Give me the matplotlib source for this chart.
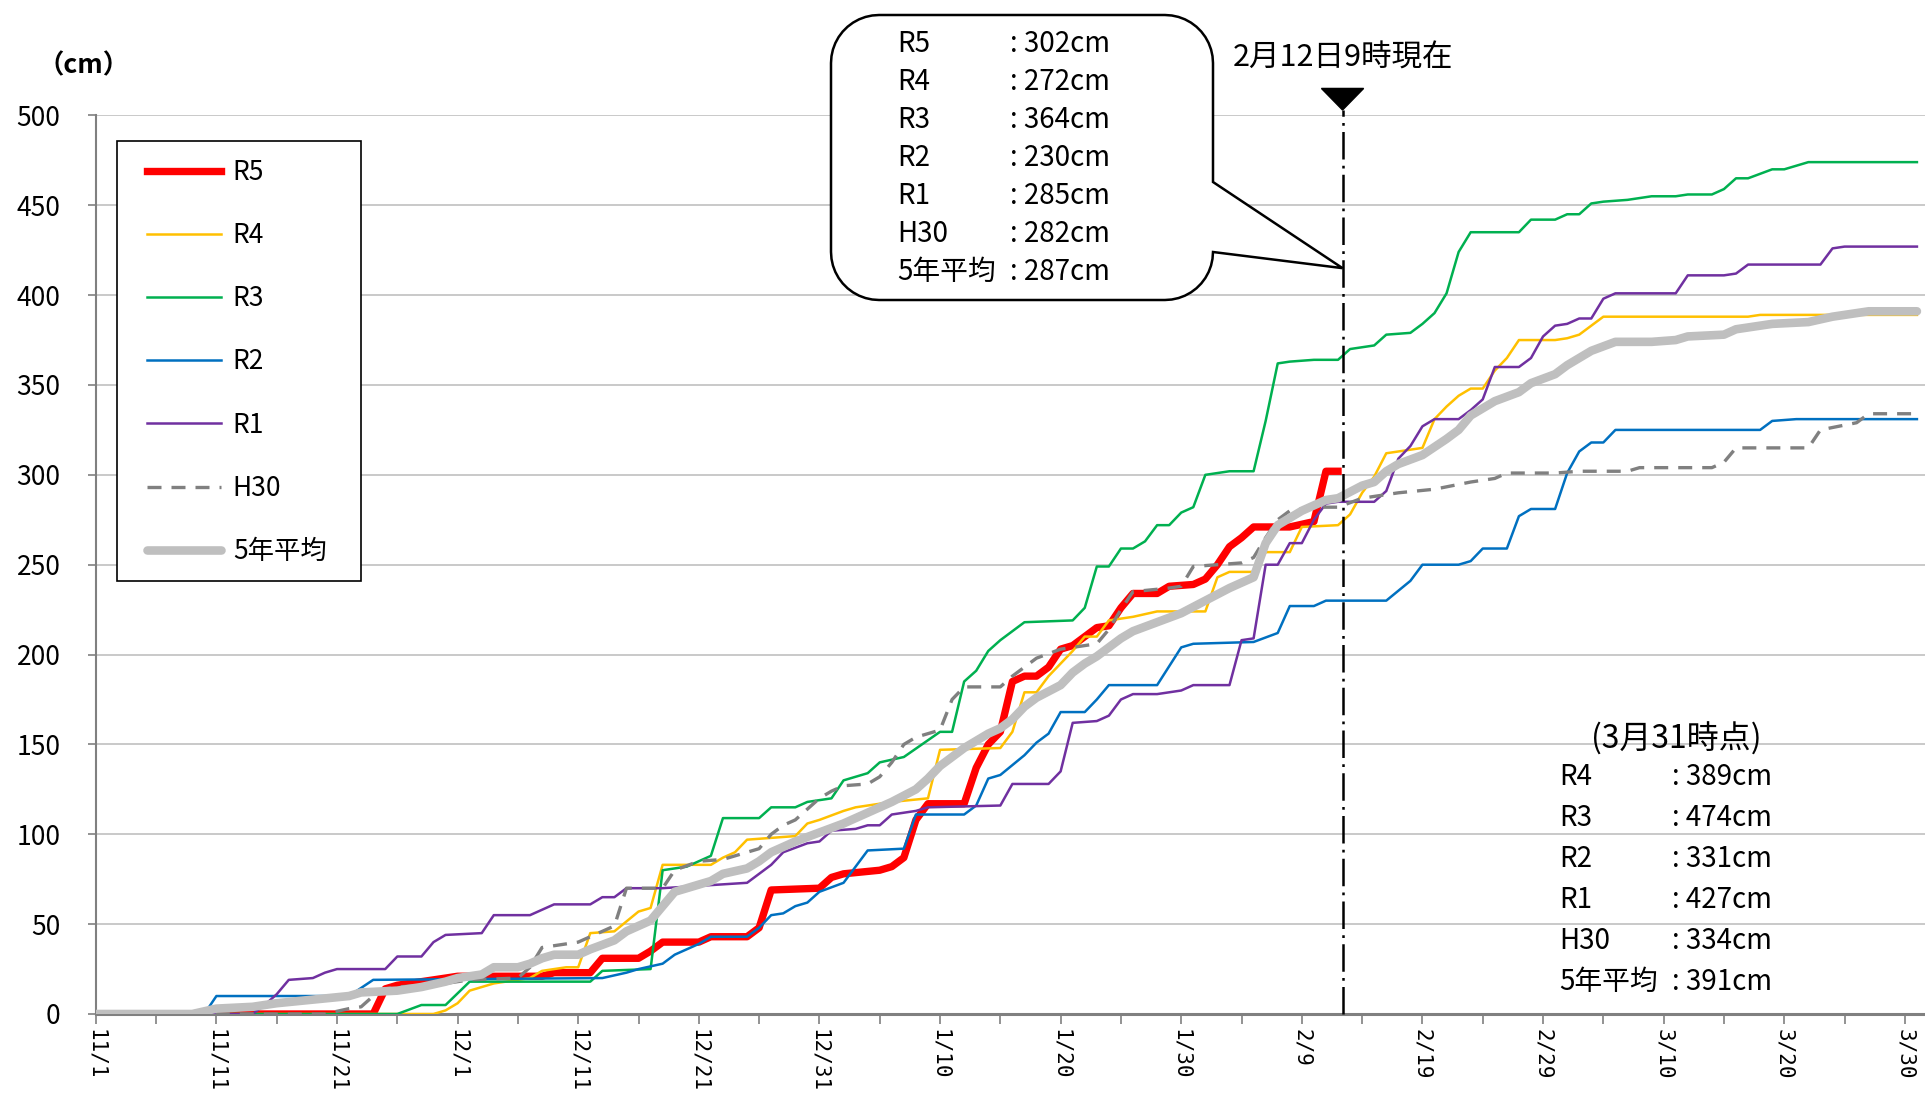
import numpy as np
import matplotlib
matplotlib.use('Agg')
import matplotlib.pyplot as plt
from matplotlib.patches import Polygon, Rectangle

plt.rcParams['font.family'] = ['Noto Sans CJK JP', 'DejaVu Sans']

# day index: 11/1 = 0 ... 3/31 = 151 (leap year)
tick_labels = ['11/1', '11/11', '11/21', '12/1', '12/11', '12/21', '12/31', '1/10',
               '1/20', '1/30', '2/9', '2/19', '2/29', '3/10', '3/20', '3/30']
tick_days = list(range(0, 151, 10))

# cumulative snowfall (cm), (day, cm) break points
r5 = [(0, 0), (23, 0), (24, 14), (25, 16), (27, 18), (29, 20), (30, 21), (37, 21), (38, 23),
      (41, 23), (42, 31), (45, 31), (46, 35), (47, 40), (50, 40), (51, 43), (54, 43), (55, 48),
      (56, 69), (60, 70), (61, 76), (62, 78), (65, 80), (66, 82), (67, 87), (68, 108), (69, 117),
      (72, 117), (73, 137), (74, 150), (75, 157), (76, 185), (77, 188), (78, 188), (79, 193),
      (80, 203), (81, 205), (82, 210), (83, 215), (84, 216), (85, 226), (86, 234), (88, 234),
      (89, 238), (91, 239), (92, 242), (93, 250), (94, 260), (95, 265), (96, 271), (99, 271),
      (101, 274), (102, 302), (103, 302)]
r4 = [(0, 0), (28, 0), (29, 2), (30, 6), (31, 13), (32, 15), (33, 17), (35, 19), (36, 20),
      (37, 24), (39, 26), (40, 26), (41, 45), (43, 46), (45, 57), (46, 59), (47, 83), (51, 83),
      (52, 87), (53, 90), (54, 97), (58, 99), (59, 106), (60, 108), (62, 113), (63, 115),
      (66, 118), (69, 120), (70, 147), (75, 148), (76, 157), (77, 179), (78, 179), (79, 188),
      (80, 195), (81, 202), (82, 210), (83, 210), (84, 219), (86, 221), (88, 224), (92, 224),
      (93, 243), (94, 246), (96, 246), (97, 257), (99, 257), (100, 271), (103, 272), (104, 278),
      (105, 290), (106, 299), (107, 312), (110, 315), (111, 331), (112, 338), (113, 344),
      (114, 348), (115, 348), (116, 358), (117, 365), (118, 375), (121, 375), (122, 376),
      (123, 378), (124, 383), (125, 388), (137, 388), (138, 389), (151, 389)]
r3 = [(0, 0), (25, 0), (27, 5), (29, 5), (31, 18), (41, 18), (42, 24), (46, 25), (47, 80),
      (49, 82), (50, 85), (51, 88), (52, 109), (55, 109), (56, 115), (58, 115), (59, 118),
      (61, 120), (62, 130), (64, 134), (65, 140), (67, 143), (70, 157), (71, 157), (72, 185),
      (73, 191), (74, 202), (75, 208), (77, 218), (81, 219), (82, 226), (83, 249), (84, 249),
      (85, 259), (86, 259), (87, 263), (88, 272), (89, 272), (90, 279), (91, 282), (92, 300),
      (94, 302), (96, 302), (97, 330), (98, 362), (99, 363), (101, 364), (103, 364), (104, 370),
      (106, 372), (107, 378), (109, 379), (110, 384), (111, 390), (112, 401), (113, 424),
      (114, 435), (118, 435), (119, 442), (121, 442), (122, 445), (123, 445), (124, 451),
      (125, 452), (127, 453), (129, 455), (131, 455), (132, 456), (134, 456), (135, 459),
      (136, 465), (137, 465), (139, 470), (140, 470), (142, 474), (151, 474)]
r2 = [(0, 0), (9, 0), (10, 10), (21, 10), (23, 19), (42, 20), (44, 23), (45, 25), (47, 28),
      (48, 33), (50, 39), (51, 43), (54, 43), (55, 48), (56, 55), (57, 56), (58, 60), (59, 62),
      (60, 68), (62, 73), (64, 91), (67, 92), (68, 111), (72, 111), (73, 116), (74, 131),
      (75, 133), (77, 144), (78, 151), (79, 156), (80, 168), (82, 168), (83, 175), (84, 183),
      (88, 183), (90, 204), (91, 206), (96, 207), (98, 212), (99, 227), (101, 227), (102, 230),
      (107, 230), (109, 241), (110, 250), (113, 250), (114, 252), (115, 259), (117, 259),
      (118, 277), (119, 281), (121, 281), (122, 301), (123, 313), (124, 318), (125, 318),
      (126, 325), (138, 325), (139, 330), (141, 331), (151, 331)]
r1 = [(0, 0), (13, 0), (14, 5), (15, 11), (16, 19), (18, 20), (19, 23), (20, 25), (24, 25),
      (25, 32), (27, 32), (28, 40), (29, 44), (32, 45), (33, 55), (36, 55), (37, 58), (38, 61),
      (41, 61), (42, 65), (43, 65), (44, 70), (47, 70), (54, 73), (55, 78), (56, 83), (57, 90),
      (59, 95), (60, 96), (61, 102), (63, 103), (64, 105), (65, 105), (66, 111), (68, 113),
      (69, 115), (75, 116), (76, 128), (79, 128), (80, 135), (81, 162), (83, 163), (84, 166),
      (85, 175), (86, 178), (88, 178), (90, 180), (91, 183), (94, 183), (95, 208), (96, 209),
      (97, 250), (98, 250), (99, 262), (100, 262), (101, 275), (102, 284), (103, 285), (106, 285),
      (107, 291), (108, 309), (109, 316), (110, 327), (111, 331), (113, 331), (114, 336),
      (115, 342), (116, 360), (118, 360), (119, 365), (120, 377), (121, 383), (122, 384),
      (123, 387), (124, 387), (125, 398), (126, 401), (131, 401), (132, 411), (135, 411),
      (136, 412), (137, 417), (143, 417), (144, 426), (145, 427), (151, 427)]
h30 = [(0, 0), (19, 0), (21, 3), (22, 4), (23, 10), (24, 14), (25, 15), (29, 17), (31, 19),
       (35, 20), (36, 26), (37, 37), (39, 39), (40, 40), (41, 43), (43, 49), (44, 70), (47, 70),
       (48, 80), (50, 85), (52, 86), (54, 90), (55, 92), (56, 100), (57, 105), (58, 108),
       (59, 114), (60, 120), (61, 124), (62, 127), (64, 128), (65, 132), (66, 140), (67, 150),
       (68, 154), (70, 158), (71, 175), (72, 182), (75, 182), (76, 188), (78, 198), (80, 203),
       (83, 206), (84, 214), (85, 225), (86, 235), (89, 237), (90, 238), (91, 249), (93, 250),
       (95, 251), (96, 254), (97, 265), (98, 275), (99, 280), (101, 282), (103, 282), (105, 287),
       (108, 290), (111, 292), (114, 296), (116, 298), (117, 301), (121, 301), (123, 302),
       (127, 302), (128, 304), (134, 304), (135, 307), (136, 315), (142, 315), (143, 325),
       (146, 329), (147, 334), (151, 334)]
avg5 = [(0, 0), (8, 0), (10, 3), (13, 4), (15, 6), (18, 8), (21, 10), (22, 12), (25, 13),
        (27, 15), (29, 18), (30, 20), (32, 22), (33, 26), (35, 26), (36, 28), (37, 31), (38, 33),
        (40, 33), (41, 36), (43, 41), (44, 46), (46, 52), (47, 60), (48, 68), (49, 70), (51, 74),
        (52, 78), (54, 81), (55, 85), (56, 90), (58, 96), (60, 101), (62, 106), (64, 112),
        (66, 118), (68, 125), (69, 131), (70, 138), (71, 143), (72, 148), (74, 156), (75, 159),
        (76, 164), (77, 171), (78, 176), (80, 183), (81, 190), (82, 195), (83, 199), (84, 204),
        (85, 209), (86, 213), (88, 218), (90, 223), (92, 230), (94, 237), (96, 243), (97, 262),
        (98, 272), (100, 280), (102, 286), (103, 287), (105, 294), (106, 296), (107, 302),
        (108, 306), (110, 311), (112, 320), (113, 325), (114, 333), (116, 341), (118, 346),
        (119, 351), (121, 356), (122, 361), (123, 365), (124, 369), (126, 374), (129, 374),
        (131, 375), (132, 377), (135, 378), (136, 381), (139, 384), (142, 385), (144, 388),
        (146, 390), (147, 391), (151, 391)]

# 2/12 9:00 marker
now_day = 103.375
now_title = '2月12日9時現在'
now_names = ['R5', 'R4', 'R3', 'R2', 'R1', 'H30', '5年平均']
now_values = [302, 272, 364, 230, 285, 282, 287]
end_title = '(3月31時点)'
end_names = ['R4', 'R3', 'R2', 'R1', 'H30', '5年平均']
end_values = [389, 474, 331, 427, 334, 391]

series = [
  ('R5', r5, dict(color='#FF0000', lw=5.3)),
  ('R4', r4, dict(color='#FFC000', lw=1.8)),
  ('R3', r3, dict(color='#00B050', lw=1.8)),
  ('R2', r2, dict(color='#0070C0', lw=1.8)),
  ('R1', r1, dict(color='#7030A0', lw=1.8)),
  ('H30', h30, dict(color='#808080', lw=2.4, dashes=(4.2, 3.0))),
  ('5年平均', avg5, dict(color='#BFBFBF', lw=6.2, solid_capstyle='round')),
]

W, H = 1925, 1093
fig = plt.figure(figsize=(W / 100, H / 100), dpi=100)
x0, y0, y500 = 95.8, 1014.0, 115.4
ax = fig.add_axes([x0 / W, (H - y0) / H, (W - x0) / W, (y0 - y500) / H])

for i, (name, pts, style) in enumerate(series):
  d, v = zip(*pts)
  ax.plot(d, v, label=name, solid_joinstyle='round', zorder=3 + i, **style)

ax.set_xlim(0, 151.67)
ax.set_ylim(0, 500)
ax.set_yticks(range(0, 501, 50))
ax.set_xticks(tick_days)
ax.set_xticks(range(5, 152, 10), minor=True)
ax.set_xticklabels(tick_labels, rotation=270, fontsize=15, family='DejaVu Sans Mono')
ax.tick_params(axis='y', labelsize=19, length=6, width=1.2, color='#808080', pad=19.5)
ax.tick_params(axis='x', which='both', length=7, width=1.2, color='#808080', pad=4)
for lab in ax.get_xticklabels():
  lab.set_va('top')
  lab.set_ha('center')
ax.grid(axis='y', color='#C0C0C0', lw=1.2)
ax.set_axisbelow(True)
for s in ['top', 'right']:
  ax.spines[s].set_visible(False)
ax.spines['left'].set_color('#808080')
ax.spines['left'].set_linewidth(1.5)
ax.spines['bottom'].set_color('#808080')
ax.spines['bottom'].set_linewidth(2.2)

# legend frame drawn separately so its size matches the original box
ax.add_patch(Rectangle((117 / W, 1 - 581 / H), 244 / W, 440 / H, transform=fig.transFigure,
                       fc='white', ec='black', lw=1.2, clip_on=False, zorder=19))
leg = ax.legend(loc='upper left', bbox_to_anchor=(147 / W, 1 - 159 / H), bbox_transform=fig.transFigure,
                borderaxespad=0, fontsize=19, handlelength=2.8, handletextpad=0.45, labelspacing=1.37,
                borderpad=0, frameon=False)
leg.set_zorder(20)

# current-time marker line and triangle
ax.plot([now_day, now_day], [0, 503], color='black', lw=1.8, dashes=(11, 2.5, 1.1, 2.5),
        clip_on=False, zorder=15)
ax.add_patch(Polygon([[now_day - 1.75, 515], [now_day + 1.75, 515], [now_day, 503]],
                     closed=True, fc='black', ec='black', clip_on=False, zorder=15))

# overlay in pixel coordinates for callouts and texts
ov = fig.add_axes([0, 0, 1, 1], zorder=5)
ov.set_xlim(0, W)
ov.set_ylim(H, 0)
ov.axis('off')
ov.patch.set_alpha(0)


def callout_path(bx0, by0, bx1, by1, r, base_top, base_bot, tip):
  pts = [(bx0 + r, by0), (bx1 - r, by0)]
  t = np.linspace(-np.pi / 2, 0, 12)
  pts += list(zip(bx1 - r + r * np.cos(t), by0 + r + r * np.sin(t)))
  pts += [(bx1, base_top), tip, (bx1, base_bot)]
  t = np.linspace(0, np.pi / 2, 12)
  pts += list(zip(bx1 - r + r * np.cos(t), by1 - r + r * np.sin(t)))
  t = np.linspace(np.pi / 2, np.pi, 12)
  pts += list(zip(bx0 + r + r * np.cos(t), by1 - r + r * np.sin(t)))
  t = np.linspace(np.pi, 1.5 * np.pi, 12)
  pts += list(zip(bx0 + r + r * np.cos(t), by0 + r + r * np.sin(t)))
  return pts


tip_px = ax.transData.transform((now_day, 415))
tip_px = (tip_px[0], H - tip_px[1])
ov.add_patch(Polygon(callout_path(831, 15, 1213, 300, 48, 182, 252, tip_px), closed=True,
                     fc='white', ec='black', lw=1.8))
for i, (n, v) in enumerate(zip(now_names, now_values)):
  yy = 44 + i * 38
  ov.text(897, yy, n, fontsize=20, va='center', ha='left')
  ov.text(1010, yy, f': {v}cm', fontsize=20, va='center', ha='left')

ov.text(tip_px[0], 58, now_title, fontsize=22, va='center', ha='center')
ov.text(84, 66, '（cm）', fontsize=19, fontweight='bold', va='center', ha='center')

ov.text(1676, 739, end_title, fontsize=23, va='center', ha='center')
for i, (n, v) in enumerate(zip(end_names, end_values)):
  yy = 777 + i * 41
  ov.text(1559, yy, n, fontsize=20, va='center', ha='left')
  ov.text(1672, yy, f': {v}cm', fontsize=20, va='center', ha='left')

fig.savefig('out.png', dpi=100)
